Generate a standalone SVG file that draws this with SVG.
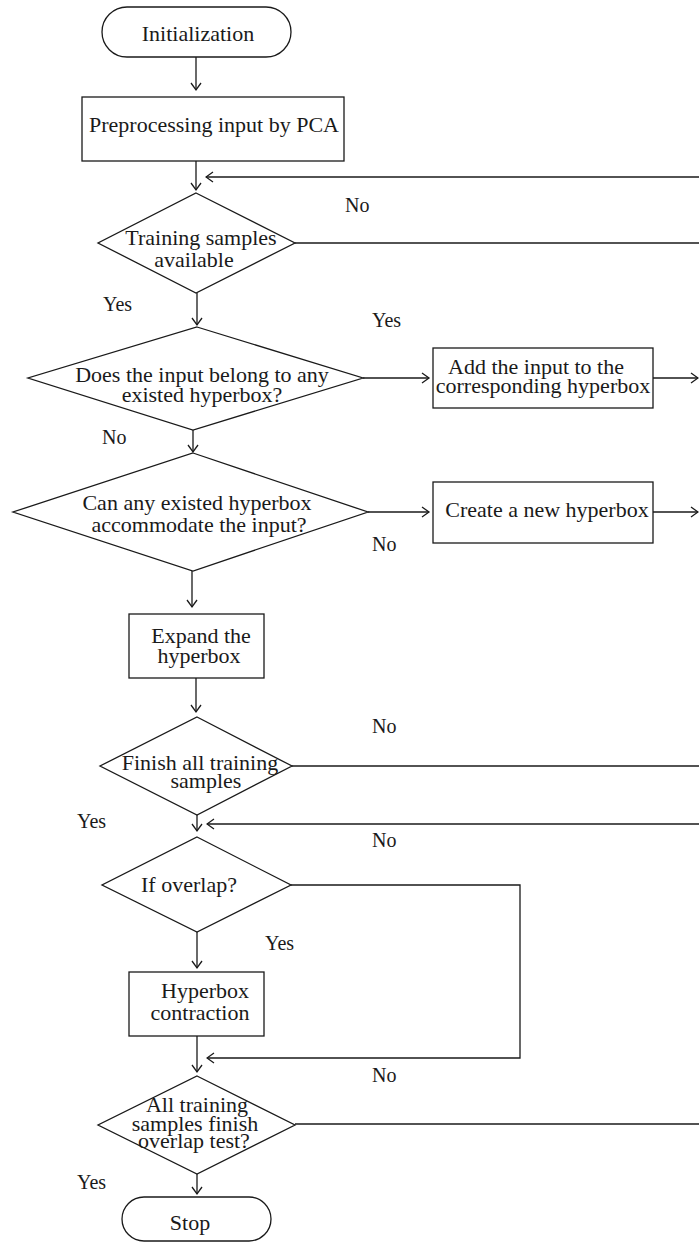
<svg xmlns="http://www.w3.org/2000/svg" width="699" height="1242" viewBox="0 0 699 1242">
<style>
.s{fill:#fff;stroke:#1a1a1a;stroke-width:1.3}
.c{fill:none;stroke:#1a1a1a;stroke-width:1.3}
.t{font-family:"Liberation Serif","Times New Roman",serif;font-size:22px;fill:#1a1a1a;text-anchor:middle}
.l{font-family:"Liberation Serif","Times New Roman",serif;font-size:20px;fill:#1a1a1a}
</style>
<defs>
<marker id="a" markerUnits="userSpaceOnUse" viewBox="0 0 10 12" markerWidth="10" markerHeight="12" refX="8.5" refY="6" orient="auto">
<path d="M1.5,1 L8.5,6 L1.5,11" fill="none" stroke="#1a1a1a" stroke-width="1.3"/>
</marker>
</defs>
<rect width="699" height="1242" fill="#fff"/>
<g id="connectors">
<line class="c" x1="196" y1="57" x2="196" y2="90" marker-end="url(#a)"/>
<line class="c" x1="196" y1="161" x2="196" y2="190" marker-end="url(#a)"/>
<line class="c" x1="699" y1="177" x2="206" y2="177" marker-end="url(#a)"/>
<line class="c" x1="295" y1="243" x2="699" y2="243"/>
<line class="c" x1="197" y1="293" x2="197" y2="325" marker-end="url(#a)"/>
<line class="c" x1="363" y1="378" x2="429" y2="378" marker-end="url(#a)"/>
<line class="c" x1="653" y1="378" x2="698" y2="378" marker-end="url(#a)"/>
<line class="c" x1="193" y1="430" x2="193" y2="452" marker-end="url(#a)"/>
<line class="c" x1="368" y1="512" x2="429" y2="512" marker-end="url(#a)"/>
<line class="c" x1="653" y1="512" x2="698" y2="512" marker-end="url(#a)"/>
<line class="c" x1="192" y1="571" x2="192" y2="607" marker-end="url(#a)"/>
<line class="c" x1="196" y1="678" x2="196" y2="712" marker-end="url(#a)"/>
<line class="c" x1="292" y1="766" x2="699" y2="766"/>
<line class="c" x1="197" y1="815" x2="197" y2="831" marker-end="url(#a)"/>
<line class="c" x1="699" y1="824" x2="207" y2="824" marker-end="url(#a)"/>
<polyline class="c" points="291,885 520,885 520,1058 207,1058" marker-end="url(#a)"/>
<line class="c" x1="197" y1="932" x2="197" y2="968" marker-end="url(#a)"/>
<line class="c" x1="197" y1="1036" x2="197" y2="1072" marker-end="url(#a)"/>
<line class="c" x1="295" y1="1124" x2="699" y2="1124"/>
<line class="c" x1="197" y1="1174" x2="197" y2="1194" marker-end="url(#a)"/>
</g>
<g id="labels">
<text class="l" x="345" y="212">No</text>
<text class="l" x="103" y="311">Yes</text>
<text class="l" x="372" y="327">Yes</text>
<text class="l" x="102" y="444">No</text>
<text class="l" x="372" y="551">No</text>
<text class="l" x="372" y="733">No</text>
<text class="l" x="77" y="828">Yes</text>
<text class="l" x="372" y="847">No</text>
<text class="l" x="265" y="950">Yes</text>
<text class="l" x="372" y="1082">No</text>
<text class="l" x="77" y="1189">Yes</text>
</g>
<g id="init">
<rect class="s" x="102" y="7" width="189" height="50" rx="25"/>
<text class="t" x="198" y="41">Initialization</text>
</g>
<g id="pca">
<rect class="s" x="82" y="97" width="262" height="64"/>
<text class="t" x="214" y="132">Preprocessing input by PCA</text>
</g>
<g id="d1">
<polygon class="s" points="196,193 295,243 196,293 98,243"/>
<text class="t" x="201" y="245">Training samples</text>
<text class="t" x="194" y="267">available</text>
</g>
<g id="d2">
<polygon class="s" points="197,327 363,378 193,430 28,378"/>
<text class="t" x="202" y="382">Does the input belong to any</text>
<text class="t" x="202" y="402">existed hyperbox?</text>
</g>
<g id="add">
<rect class="s" x="433" y="348" width="220" height="60"/>
<text class="t" x="536" y="374">Add the input to the</text>
<text class="t" x="543" y="393">corresponding hyperbox</text>
</g>
<g id="d3">
<polygon class="s" points="193,453 368,512 193,571 13,512"/>
<text class="t" x="197" y="510">Can any existed hyperbox</text>
<text class="t" x="199" y="532">accommodate the input?</text>
</g>
<g id="create">
<rect class="s" x="433" y="482" width="220" height="61"/>
<text class="t" x="547" y="517">Create a new hyperbox</text>
</g>
<g id="expand">
<rect class="s" x="129" y="614" width="135" height="64"/>
<text class="t" x="201" y="643">Expand the</text>
<text class="t" x="199" y="663">hyperbox</text>
</g>
<g id="d4">
<polygon class="s" points="197,717 292,766 197,815 100,766"/>
<text class="t" x="200" y="770">Finish all training</text>
<text class="t" x="206" y="788">samples</text>
</g>
<g id="d5">
<polygon class="s" points="197,837 291,885 197,932 102,885"/>
<text class="t" x="189" y="892">If overlap?</text>
</g>
<g id="contract">
<rect class="s" x="129" y="972" width="135" height="64"/>
<text class="t" x="205" y="998">Hyperbox</text>
<text class="t" x="200" y="1020">contraction</text>
</g>
<g id="d6">
<polygon class="s" points="197,1076 295,1125 197,1174 98,1125"/>
<text class="t" x="197" y="1112">All training</text>
<text class="t" x="195" y="1131">samples finish</text>
<text class="t" x="194" y="1148">overlap test?</text>
</g>
<g id="stop">
<rect class="s" x="122" y="1197" width="149" height="44" rx="22"/>
<text class="t" x="190" y="1230">Stop</text>
</g>
</svg>
